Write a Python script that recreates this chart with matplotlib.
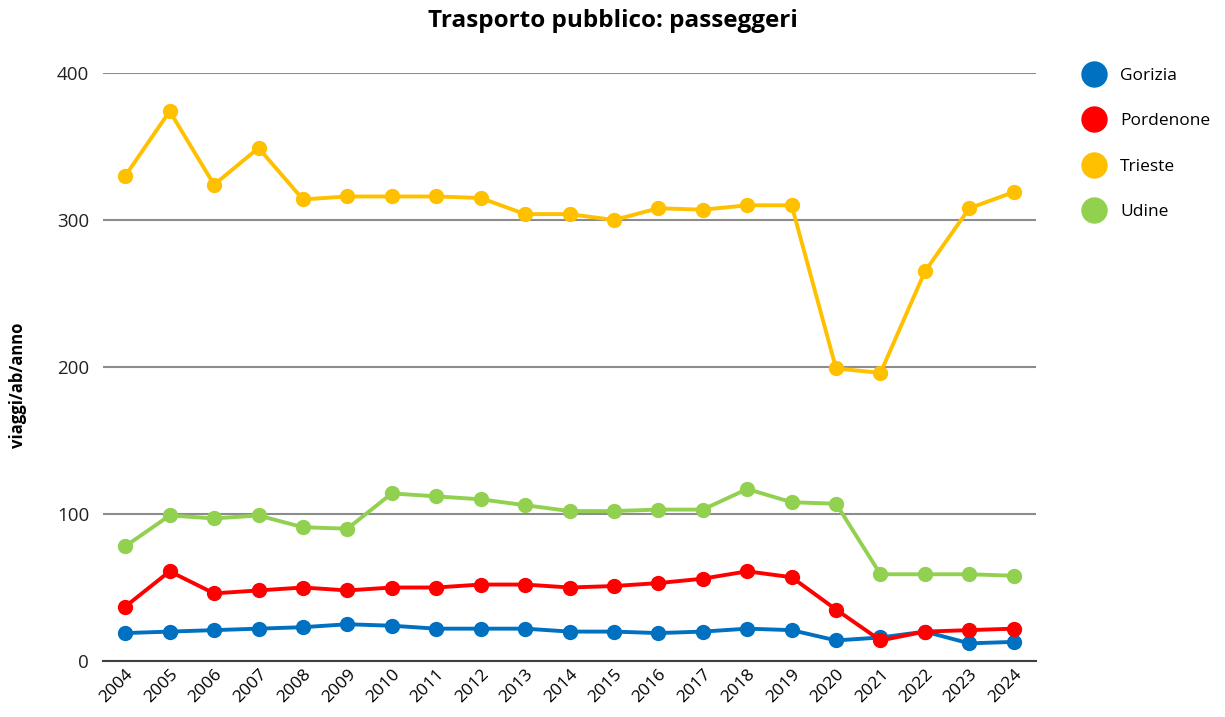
import matplotlib
matplotlib.use("Agg")
import matplotlib.pyplot as plt
from matplotlib.lines import Line2D

plt.rcParams["font.family"] = ["Open Sans", "DejaVu Sans"]

years = [str(y) for y in range(2004, 2025)]

gorizia = [19, 20, 21, 22, 23, 25, 24, 22, 22, 22, 20, 20, 19, 20, 22, 21, 14, 16, 20, 12, 13]
pordenone = [37, 61, 46, 48, 50, 48, 50, 50, 52, 52, 50, 51, 53, 56, 61, 57, 35, 14, 20, 21, 22]
trieste = [330, 374, 324, 349, 314, 316, 316, 316, 315, 304, 304, 300, 308, 307, 310, 310, 199, 196, 265, 308, 319]
udine = [78, 99, 97, 99, 91, 90, 114, 112, 110, 106, 102, 102, 103, 103, 117, 108, 107, 59, 59, 59, 58]

series = [
    ("Gorizia", gorizia, "#0070C0"),
    ("Pordenone", pordenone, "#FF0000"),
    ("Trieste", trieste, "#FFC000"),
    ("Udine", udine, "#92D050"),
]

fig = plt.figure(figsize=(12.25, 7.17), dpi=100)
ax = fig.add_axes([0.0841, 0.0781, 0.7616, 0.8201])

x = list(range(len(years)))
for name, vals, col in series:
    ax.plot(x, vals, color=col, lw=2.8, marker="o", ms=10, solid_capstyle="round", zorder=3)

ax.set_xlim(-0.5, len(years) - 0.5)
ax.set_ylim(0, 400)
ax.set_yticks([0, 100, 200, 300, 400])
ax.set_xticks(x)
ax.set_xticklabels(years, rotation=45, ha="right", rotation_mode="anchor", fontsize=12.5)
ax.tick_params(axis="y", labelsize=13.5, length=0, pad=10, colors="#222222")
ax.tick_params(axis="x", length=0, pad=4)

ax.grid(axis="y", color="#8c8c8c", lw=1.5, zorder=0)
for s in ["top", "right", "left"]:
    ax.spines[s].set_visible(False)
ax.spines["bottom"].set_color("#404040")
ax.spines["bottom"].set_linewidth(1.5)

fig.text(0.015, 1 - 385 / 717, "viaggi/ab/anno", rotation=90, ha="center", va="center",
         fontsize=12, fontweight="bold")
fig.suptitle("Trasporto pubblico: passeggeri", fontsize=17.5, fontweight="bold", y=0.988)

handles = [Line2D([], [], ls="none", marker="o", ms=18, color=col) for _, _, col in series]
fig.legend(handles, [n for n, _, _ in series], loc="upper left",
           bbox_to_anchor=(0.866, 0.927), frameon=False, fontsize=12.5,
           labelspacing=1.68, handletextpad=0.5)

fig.savefig("out.png", dpi=100)
